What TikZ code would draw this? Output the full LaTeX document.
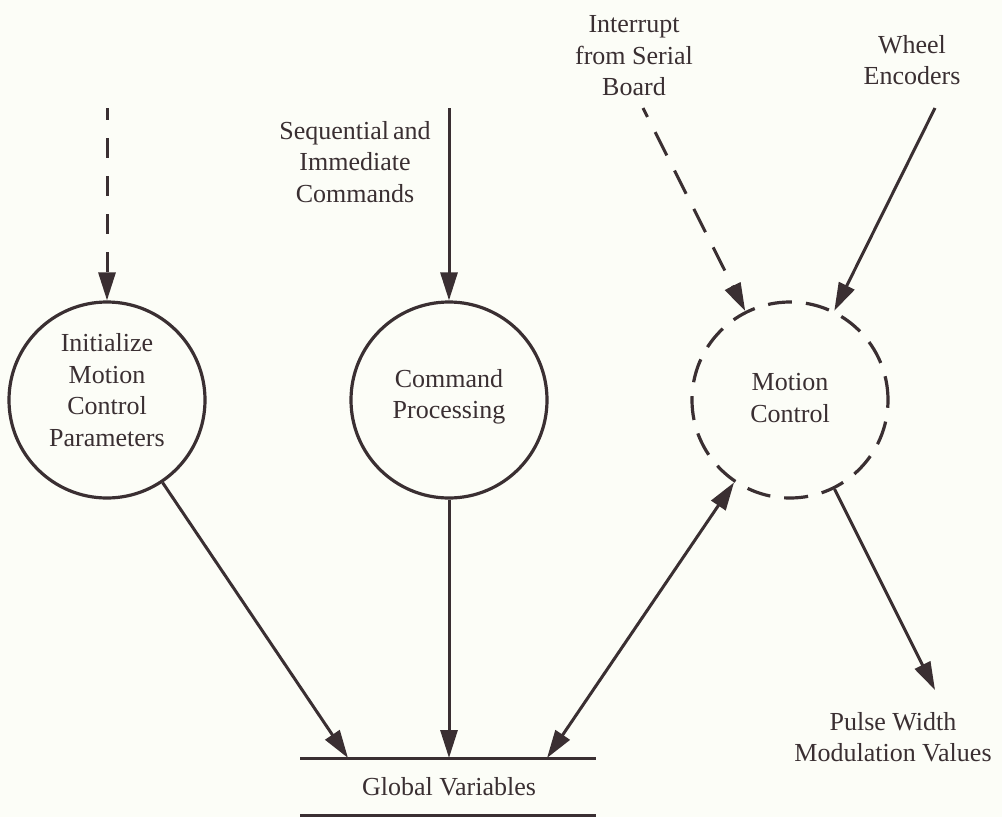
\documentclass[tikz,border=0pt]{standalone}
\usepackage{fontspec}
\setmainfont{Liberation Serif}
\usetikzlibrary{arrows.meta}
\definecolor{ink}{RGB}{58,47,50}
\definecolor{paper}{RGB}{252,253,247}
\begin{document}
\begin{tikzpicture}[x=1pt,y=-1pt,
  every node/.style={text=ink,font=\fontsize{26}{31.5}\selectfont,align=center},
  proc/.style={draw=ink,circle,line width=3.2pt,minimum size=196pt,inner sep=0pt},
  dproc/.style={proc,dash pattern=on 24pt off 14pt},
  flow/.style={draw=ink,line width=3pt,-{Triangle[length=28pt,width=17pt]}},
  biflow/.style={draw=ink,line width=3pt,{Triangle[length=28pt,width=17pt]}-{Triangle[length=28pt,width=17pt]}},
  dflowv/.style={flow,dash pattern=on 20pt off 18pt,dash phase=8pt},
  dflow/.style={flow,dash pattern=on 26pt off 17pt,dash phase=16pt},
  store/.style={draw=ink,line width=3pt}]
\fill[paper] (0,0) rectangle (1002,817);
\useasboundingbox (0,0) rectangle (1002,817);

% processes
\node[proc] (init) at (107,400) {};
\node at (107,390) {Initialize\\Motion\\Control\\Parameters};
\node[proc] (cmd) at (449,400) {};
\node at (449,397) {Command\\Processing};
\node[dproc] (mc) at (790,400) {};
\node at (790,398) {Motion\\Control};

% external labels
\node (seqlbl) at (355,162) {Sequential\kern0.15em and\\Immediate\\Commands};
\node (intlbl) at (634,56) {Interrupt\\from Serial\\Board};
\node (whllbl) at (912,60) {Wheel\\Encoders};
\node (pwmlbl) at (893,737) {Pulse Width\\Modulation Values};

% data store
\coordinate (gvTL) at (300,758);
\coordinate (gvTR) at (596,758);
\coordinate (gvBL) at (300,815);
\coordinate (gvBR) at (596,815);
\node (gv) at (449,787) {Global Variables};
\draw[store] (gvTL) -- (gvTR);
\draw[store] (gvBL) -- (gvBR);

% endpoints
\coordinate (initsrc) at (107,108);
\coordinate (cmdsrc) at (449,108);
\coordinate (intsrc) at (643,108);
\coordinate (whlsrc) at (935,108);
\coordinate (gv1) at (348,758);
\coordinate (gv2) at (449,758);
\coordinate (gv3) at (547,758);
\coordinate (pwm) at (935,690);

% flows
\draw[dflowv] (initsrc) -- (init);
\draw[flow] (cmdsrc) -- (cmd);
\draw[dflow] (intsrc) -- (mc);
\draw[flow] (whlsrc) -- (mc);
\draw[flow] (init) -- (gv1);
\draw[flow] (cmd) -- (gv2);
\draw[biflow] (gv3) -- (mc);
\draw[flow] (mc) -- (pwm);
\end{tikzpicture}
\end{document}
